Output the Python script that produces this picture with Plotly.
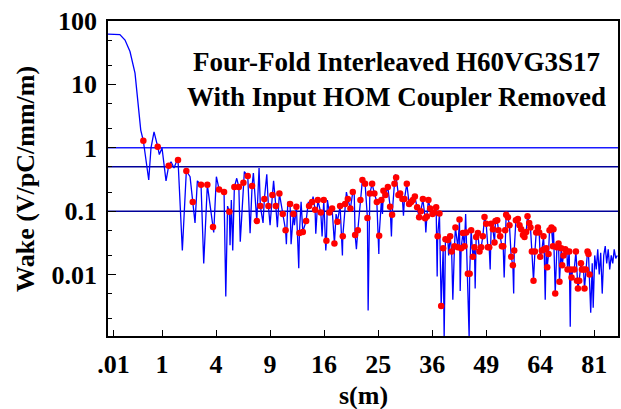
import plotly.graph_objects as go

# x axis is plotted on a square-root scale: values are sqrt(s) in sqrt(m)
line_root_s = [
    0.0, 0.11, 0.22, 0.315, 0.407, 0.5, 0.561, 0.606, 0.654, 0.754, 0.796, 0.852, 0.920, 0.950, 1.0,
    1.074, 1.124, 1.167, 1.222, 1.259, 1.296, 1.376, 1.45, 1.519, 1.569, 1.611, 1.654, 1.722, 1.772,
    1.839, 1.944, 1.957, 2.006, 2.056, 2.148, 2.180, 2.213, 2.246, 2.259, 2.283, 2.309, 2.339, 2.383,
    2.422, 2.448, 2.506, 2.524, 2.587, 2.630, 2.667, 2.691, 2.754, 2.796, 2.820, 2.870, 2.894, 2.939,
    2.969, 3.0, 3.043, 3.065, 3.106, 3.135, 3.172, 3.235, 3.287, 3.302, 3.328, 3.370, 3.389, 3.431,
    3.450, 3.487, 3.531, 3.543, 3.574, 3.606, 3.667, 3.709, 3.722, 3.778, 3.796, 3.833, 3.846, 3.883,
    3.939, 3.963, 3.994, 4.031, 4.043, 4.061, 4.098, 4.148, 4.172, 4.191, 4.222, 4.246, 4.296, 4.339,
    4.346, 4.389, 4.413, 4.439, 4.487, 4.531, 4.556, 4.574, 4.598, 4.624, 4.672, 4.709, 4.722, 4.759,
    4.802, 4.815, 4.846, 4.889, 4.931, 4.976, 5.013, 5.019, 5.061, 5.080, 5.098, 5.135, 5.180, 5.222,
    5.246, 5.259, 5.302, 5.320, 5.333, 5.376, 5.407, 5.45, 5.469, 5.487, 5.531, 5.574, 5.611, 5.643,
    5.680, 5.722, 5.759, 5.791, 5.828, 5.870, 5.883, 5.902, 5.931, 5.963, 6.006, 6.037, 6.074, 6.093,
    6.102, 6.135, 6.167, 6.204, 6.222, 6.246, 6.291, 6.306, 6.333, 6.361, 6.383, 6.413, 6.431, 6.476,
    6.506, 6.519, 6.537, 6.569, 6.598, 6.620, 6.630, 6.661, 6.685, 6.694, 6.722, 6.754, 6.783, 6.796,
    6.815, 6.846, 6.876, 6.907, 6.939, 6.969, 7.0, 7.031, 7.056, 7.074, 7.093, 7.124, 7.154, 7.172,
    7.204, 7.228, 7.259, 7.291, 7.315, 7.333, 7.352, 7.370, 7.402, 7.431, 7.463, 7.494, 7.509, 7.519,
    7.55, 7.587, 7.617, 7.648, 7.680, 7.709, 7.741, 7.765, 7.796, 7.820, 7.846, 7.876, 7.902, 7.926,
    7.957, 7.981, 8.0, 8.031, 8.061, 8.074, 8.093, 8.111, 8.130, 8.154, 8.172, 8.209, 8.235, 8.246,
    8.278, 8.309, 8.339, 8.357, 8.389, 8.407, 8.431, 8.463, 8.494, 8.506, 8.537, 8.556, 8.568, 8.580,
    8.606, 8.630, 8.661, 8.680, 8.698, 8.722, 8.754, 8.772, 8.802, 8.820, 8.846, 8.876, 8.894, 8.913,
    8.935, 8.963, 8.981, 9.009, 9.037, 9.065, 9.093, 9.120, 9.148, 9.176, 9.204, 9.231, 9.259, 9.287,
    9.315, 9.343, 9.370, 9.398, 9.426,
]
line_wake = [
    62, 62, 61, 50, 33, 15, 5.1, 1.9, 1.29, 0.31, 1.0, 1.78, 1.04, 0.78, 0.99,
    0.30, 0.52, 0.60, 0.48, 0.58, 0.64, 0.024, 0.43, 0.35, 0.14, 0.065, 0.30, 0.26, 0.015,
    0.26, 0.056, 0.046, 0.35, 0.22, 0.20, 0.0045, 0.12, 0.098, 0.029, 0.15, 0.024, 0.24, 0.33,
    0.24, 0.033, 0.28, 0.42, 0.36, 0.045, 0.25, 0.40, 0.07, 0.48, 0.12, 0.065, 0.155, 0.38,
    0.12, 0.06, 0.18, 0.30, 0.12, 0.056, 0.19, 0.09, 0.05, 0.03, 0.14, 0.13, 0.03, 0.09,
    0.06, 0.117, 0.0126, 0.045, 0.14, 0.047, 0.07, 0.14, 0.12, 0.14, 0.17, 0.105, 0.044, 0.15,
    0.095, 0.04, 0.15, 0.024, 0.034, 0.15, 0.095, 0.11, 0.06, 0.031, 0.09, 0.068, 0.12, 0.02,
    0.04, 0.13, 0.2, 0.155, 0.11, 0.2, 0.22, 0.042, 0.025, 0.05, 0.15, 0.31, 0.33, 0.27,
    0.078, 0.0027, 0.19, 0.27, 0.19, 0.14, 0.021, 0.041, 0.15, 0.09, 0.21, 0.18, 0.24, 0.117,
    0.04, 0.088, 0.27, 0.38, 0.34, 0.18, 0.19, 0.155, 0.085, 0.155, 0.27, 0.13, 0.14, 0.15,
    0.17, 0.115, 0.08, 0.1, 0.155, 0.077, 0.046, 0.082, 0.15, 0.11, 0.09, 0.095, 0.115, 0.0093,
    0.04, 0.092, 0.0032, 0.026, 0.001, 0.036, 0.035, 0.02, 0.04, 0.023, 0.004, 0.028, 0.055, 0.027,
    0.074, 0.0055, 0.026, 0.045, 0.028, 0.09, 0.046, 0.0103, 0.001, 0.0103, 0.05, 0.019, 0.027, 0.006,
    0.039, 0.045, 0.023, 0.027, 0.04, 0.081, 0.063, 0.027, 0.027, 0.012, 0.063, 0.052, 0.032, 0.07,
    0.072, 0.05, 0.04, 0.028, 0.028, 0.009, 0.05, 0.088, 0.08, 0.06, 0.019, 0.014, 0.005, 0.024,
    0.072, 0.075, 0.06, 0.052, 0.042, 0.039, 0.047, 0.083, 0.065, 0.055, 0.023, 0.008, 0.023, 0.046,
    0.055, 0.046, 0.019, 0.024, 0.04, 0.025, 0.004, 0.026, 0.013, 0.021, 0.05, 0.055, 0.028, 0.052,
    0.005, 0.027, 0.031, 0.0077, 0.026, 0.014, 0.02, 0.025, 0.023, 0.012, 0.023, 0.0015, 0.012, 0.009,
    0.012, 0.012, 0.023, 0.008, 0.006, 0.008, 0.015, 0.012, 0.012, 0.006, 0.012, 0.023, 0.021, 0.01,
    0.0025, 0.015, 0.003, 0.02, 0.012, 0.025, 0.01, 0.022, 0.005, 0.02, 0.028, 0.015, 0.025, 0.012,
    0.02, 0.015, 0.025, 0.018, 0.02,
]

dot_root_s = [
    0.654, 0.920, 1.124, 1.296, 1.45, 1.569, 1.722, 1.839, 1.944, 2.056, 2.148, 2.246, 2.339, 2.422,
    2.506, 2.587, 2.667, 2.754, 2.820, 2.894, 2.969, 3.043, 3.106, 3.172, 3.235, 3.287, 3.370, 3.431,
    3.487, 3.543, 3.606, 3.667, 3.722, 3.778, 3.833, 3.883, 3.939, 3.994, 4.043, 4.098, 4.148, 4.191,
    4.246, 4.296, 4.346, 4.389, 4.439, 4.487, 4.531, 4.574, 4.624, 4.672, 4.709, 4.759, 4.802, 4.846,
    4.889, 4.931, 4.976, 5.019, 5.061, 5.098, 5.135, 5.180, 5.222, 5.259, 5.302, 5.333, 5.376, 5.407,
    5.45, 5.487, 5.531, 5.574, 5.611, 5.643, 5.680, 5.722, 5.759, 5.791, 5.828, 5.870, 5.902, 5.931,
    5.963, 6.006, 6.037, 6.074, 6.102, 6.135, 6.167, 6.204, 6.246, 6.291, 6.333, 6.361, 6.413, 6.431,
    6.476, 6.506, 6.537, 6.569, 6.598, 6.630, 6.661, 6.694, 6.722, 6.754, 6.783, 6.815, 6.846, 6.876,
    6.907, 6.939, 6.969, 7.0, 7.031, 7.056, 7.093, 7.124, 7.154, 7.172, 7.204, 7.228, 7.259, 7.291,
    7.315, 7.352, 7.370, 7.402, 7.431, 7.463, 7.494, 7.519, 7.55, 7.587, 7.617, 7.648, 7.680, 7.709,
    7.741, 7.765, 7.796, 7.820, 7.846, 7.876, 7.902, 7.926, 7.957, 7.981, 8.0, 8.031, 8.061, 8.074,
    8.111, 8.130, 8.154, 8.172, 8.209, 8.235, 8.246, 8.278, 8.309, 8.339, 8.357, 8.389, 8.407, 8.431,
    8.463, 8.494, 8.506, 8.537, 8.568, 8.580, 8.630, 8.661, 8.680, 8.698, 8.722, 8.754, 8.772, 8.802,
    8.820, 8.846, 8.876, 8.894, 8.913,
]
dot_wake = [
    1.29, 1.04, 0.52, 0.64, 0.43, 0.14, 0.26, 0.26, 0.056, 0.22, 0.20, 0.098, 0.24, 0.24,
    0.28, 0.36, 0.25, 0.07, 0.12, 0.155, 0.12, 0.18, 0.12, 0.19, 0.09, 0.05, 0.13, 0.09,
    0.117, 0.045, 0.047, 0.07, 0.12, 0.14, 0.105, 0.15, 0.095, 0.15, 0.034, 0.095, 0.11, 0.031,
    0.068, 0.12, 0.04, 0.13, 0.155, 0.11, 0.2, 0.042, 0.05, 0.15, 0.31, 0.27, 0.078, 0.19,
    0.27, 0.19, 0.14, 0.041, 0.15, 0.21, 0.18, 0.24, 0.117, 0.088, 0.27, 0.34, 0.18, 0.19,
    0.155, 0.155, 0.27, 0.13, 0.14, 0.15, 0.17, 0.115, 0.08, 0.1, 0.155, 0.077, 0.082, 0.15,
    0.11, 0.09, 0.095, 0.115, 0.04, 0.092, 0.0032, 0.026, 0.036, 0.035, 0.04, 0.023, 0.028, 0.055,
    0.027, 0.074, 0.026, 0.045, 0.028, 0.046, 0.0103, 0.0103, 0.05, 0.019, 0.027, 0.039, 0.045, 0.023,
    0.027, 0.04, 0.081, 0.063, 0.027, 0.027, 0.063, 0.052, 0.032, 0.07, 0.072, 0.05, 0.04, 0.028,
    0.028, 0.05, 0.088, 0.08, 0.06, 0.019, 0.014, 0.024, 0.072, 0.075, 0.06, 0.052, 0.042, 0.039,
    0.047, 0.083, 0.065, 0.055, 0.023, 0.008, 0.023, 0.046, 0.055, 0.046, 0.019, 0.024, 0.04, 0.025,
    0.026, 0.013, 0.021, 0.05, 0.055, 0.028, 0.052, 0.005, 0.027, 0.031, 0.0077, 0.026, 0.014, 0.02,
    0.025, 0.023, 0.012, 0.023, 0.012, 0.009, 0.012, 0.023, 0.008, 0.006, 0.008, 0.015, 0.012, 0.012,
    0.006, 0.012, 0.023, 0.021, 0.01,
]

ref_levels = [1.0, 0.5, 0.1]
ref_colors = ["#1a1aff", "#000099", "#000099"]

x_tick_s = [0.01, 1, 4, 9, 16, 25, 36, 49, 64, 81]
x_tick_labels = [".01", "1", "4", "9", "16", "25", "36", "49", "64", "81"]
y_tick_vals = [0.01, 0.1, 1, 10, 100]
y_tick_labels = ["0.01", "0.1", "1", "10", "100"]
y_minor_vals = [0.002, 0.005, 0.02, 0.05, 0.2, 0.5, 2, 5, 20, 50]

title_lines = ["Four-Fold Interleaved H60VG3S17", "With Input HOM Coupler Removed"]
x_title = "s(m)"
y_title = "Wake (V/pC/mm/m)"

FONT = "Liberation Serif"
x_max = 9.44

fig = go.Figure()
for lvl, col in zip(ref_levels, ref_colors):
    fig.add_trace(go.Scatter(x=[0, x_max], y=[lvl, lvl], mode="lines",
                             line=dict(color=col, width=1.5), hoverinfo="skip"))
fig.add_trace(go.Scatter(x=line_root_s, y=line_wake, mode="lines",
                         line=dict(color="#0000ff", width=1.3)))
fig.add_trace(go.Scatter(x=dot_root_s, y=dot_wake, mode="markers",
                         marker=dict(color="#ff0000", size=6.5, line=dict(width=0))))

bold = dict(family=FONT, size=26, color="black", weight="bold")
fig.add_annotation(xref="paper", yref="paper", x=0.565, y=0.815,
                   xanchor="center", yanchor="middle",
                   text="<br>".join(title_lines), showarrow=False,
                   font=dict(family=FONT, size=27, color="black", weight="bold"),
                   align="center")
fig.add_annotation(xref="paper", yref="paper", x=0.5, y=-0.19,
                   xanchor="center", yanchor="middle",
                   text=x_title, showarrow=False, font=bold)
fig.add_annotation(xref="paper", yref="paper", x=-0.162, y=0.5,
                   xanchor="center", yanchor="middle", textangle=-90,
                   text=y_title, showarrow=False, font=bold)

fig.update_layout(
    width=621, height=409,
    margin=dict(l=108, r=3, t=21, b=73),
    paper_bgcolor="white", plot_bgcolor="white",
    showlegend=False,
    font=dict(family=FONT, color="black"),
)
fig.update_xaxes(
    range=[0, x_max], automargin=False,
    tickmode="array",
    tickvals=[v ** 0.5 for v in x_tick_s],
    ticktext=x_tick_labels,
    ticks="inside", ticklen=6, tickwidth=1, tickcolor="black",
    tickfont=bold, ticklabelstandoff=4,
    showline=True, linecolor="black", linewidth=1.5, mirror=True,
    showgrid=False, zeroline=False,
)
fig.update_yaxes(
    type="log",
    range=[-2.97, 2], automargin=False,
    tickmode="array",
    tickvals=y_tick_vals,
    ticktext=y_tick_labels,
    ticks="inside", ticklen=8, tickwidth=1, tickcolor="black",
    tickfont=bold, ticklabelstandoff=4,
    minor=dict(tickvals=y_minor_vals, ticks="inside", ticklen=4, tickcolor="black"),
    showline=True, linecolor="black", linewidth=1.5, mirror=True,
    showgrid=False, zeroline=False,
)

fig.write_html("out.html", config={"displayModeBar": False},
               post_script="document.body.style.margin='0';document.body.style.overflow='hidden';")
